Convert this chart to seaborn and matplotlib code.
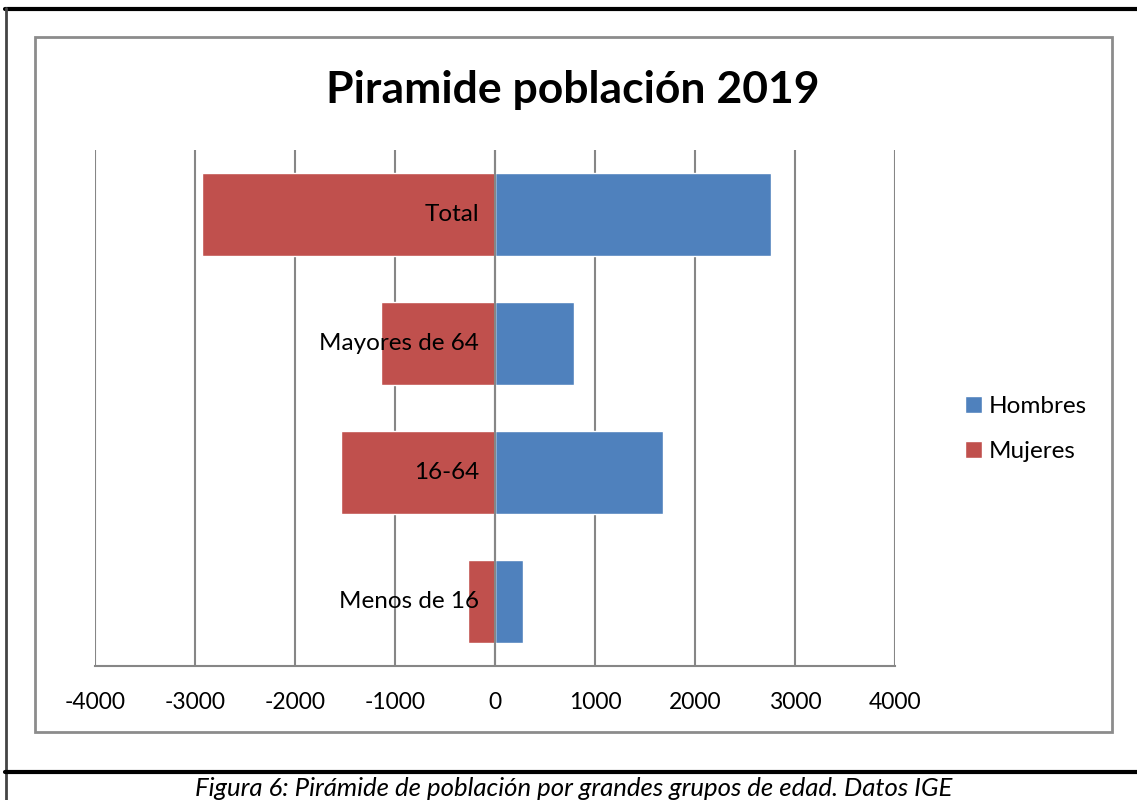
import pandas as pd
import seaborn as sns
import matplotlib.pyplot as plt
from matplotlib.lines import Line2D
from matplotlib.patches import Rectangle
from matplotlib.transforms import offset_copy

# Datos (miles de personas)
grupos = ['Total', 'Mayores de 64', '16-64', 'Menos de 16']
hombres = [2755, 790, 1680, 280]
mujeres = [2935, 1140, 1540, 270]
ticks = [-4000, -3000, -2000, -1000, 0, 1000, 2000, 3000, 4000]

df = pd.DataFrame({
    'grupo': grupos * 2,
    'valor': hombres + [-m for m in mujeres],
    'sexo': ['Hombres'] * len(grupos) + ['Mujeres'] * len(grupos),
})

sns.set_theme(style='white')
plt.rcParams['font.family'] = ['Lato', 'DejaVu Sans']
plt.rcParams['text.color'] = 'black'
plt.rcParams['xtick.color'] = 'black'
plt.rcParams['xtick.labelcolor'] = 'black'

fig = plt.figure(figsize=(11.37, 8), dpi=100)
ax = fig.add_axes([95 / 1137, 1 - 666 / 800, 800 / 1137, 516 / 800])

sns.barplot(data=df, y='grupo', x='valor', hue='sexo', order=grupos,
            hue_order=['Hombres', 'Mujeres'], dodge=False, width=0.645,
            palette={'Hombres': '#4F81BD', 'Mujeres': '#C0504D'},
            saturation=1, ax=ax, zorder=2)

ax.set_xlim(-4000, 4000)
ax.set_xticks(ticks)
ax.set_xticklabels([str(t) for t in ticks], fontsize=16.5)
ax.tick_params(axis='x', length=0, pad=19)
ax.set_yticks([])
ax.set_xlabel('')
ax.set_ylabel('')
ax.grid(axis='x', color='#868686', linewidth=1.5)
ax.set_axisbelow(True)
ax.axvline(0, color='#868686', linewidth=1.5, zorder=3)
for s in ['top', 'left', 'right']:
    ax.spines[s].set_visible(False)
ax.spines['bottom'].set_color('#868686')
ax.spines['bottom'].set_linewidth(1.5)

# etiquetas de categoría junto al eje 0
tr = offset_copy(ax.transData, fig=fig, x=-16, y=0, units='dots')
for i, g in enumerate(grupos):
    ax.text(0, i, g, transform=tr, ha='right', va='center', fontsize=17.5, zorder=4)

leg = ax.legend(loc='center left', bbox_to_anchor=(1.06, 0.459), frameon=False,
                fontsize=17.5, handlelength=0.7, handleheight=0.7,
                handletextpad=0.3, labelspacing=1.0)

fig.text(573 / 1137, 1 - 90 / 800, 'Piramide población 2019', ha='center',
         va='center', fontsize=32, fontweight='bold')
fig.text(574 / 1137, 1 - 788 / 800,
         'Figura 6: Pirámide de población por grandes grupos de edad. Datos IGE',
         ha='center', va='center', fontsize=18.5, fontstyle='italic')

# marcos
fig.patches.append(Rectangle((35 / 1137, 1 - 732 / 800), 1077 / 1137, 695 / 800,
                             transform=fig.transFigure, fill=False,
                             edgecolor='#8c8c8c', linewidth=2))
fig.lines.append(Line2D([5 / 1137, 1], [1 - 8.5 / 800] * 2, transform=fig.transFigure,
                        color='black', linewidth=3))
fig.lines.append(Line2D([5.5 / 1137] * 2, [1 - 8 / 800, 0], transform=fig.transFigure,
                        color='#444444', linewidth=2))
fig.lines.append(Line2D([5 / 1137, 1], [1 - 771.5 / 800] * 2, transform=fig.transFigure,
                        color='black', linewidth=3))

fig.savefig('out.png', dpi=100)
